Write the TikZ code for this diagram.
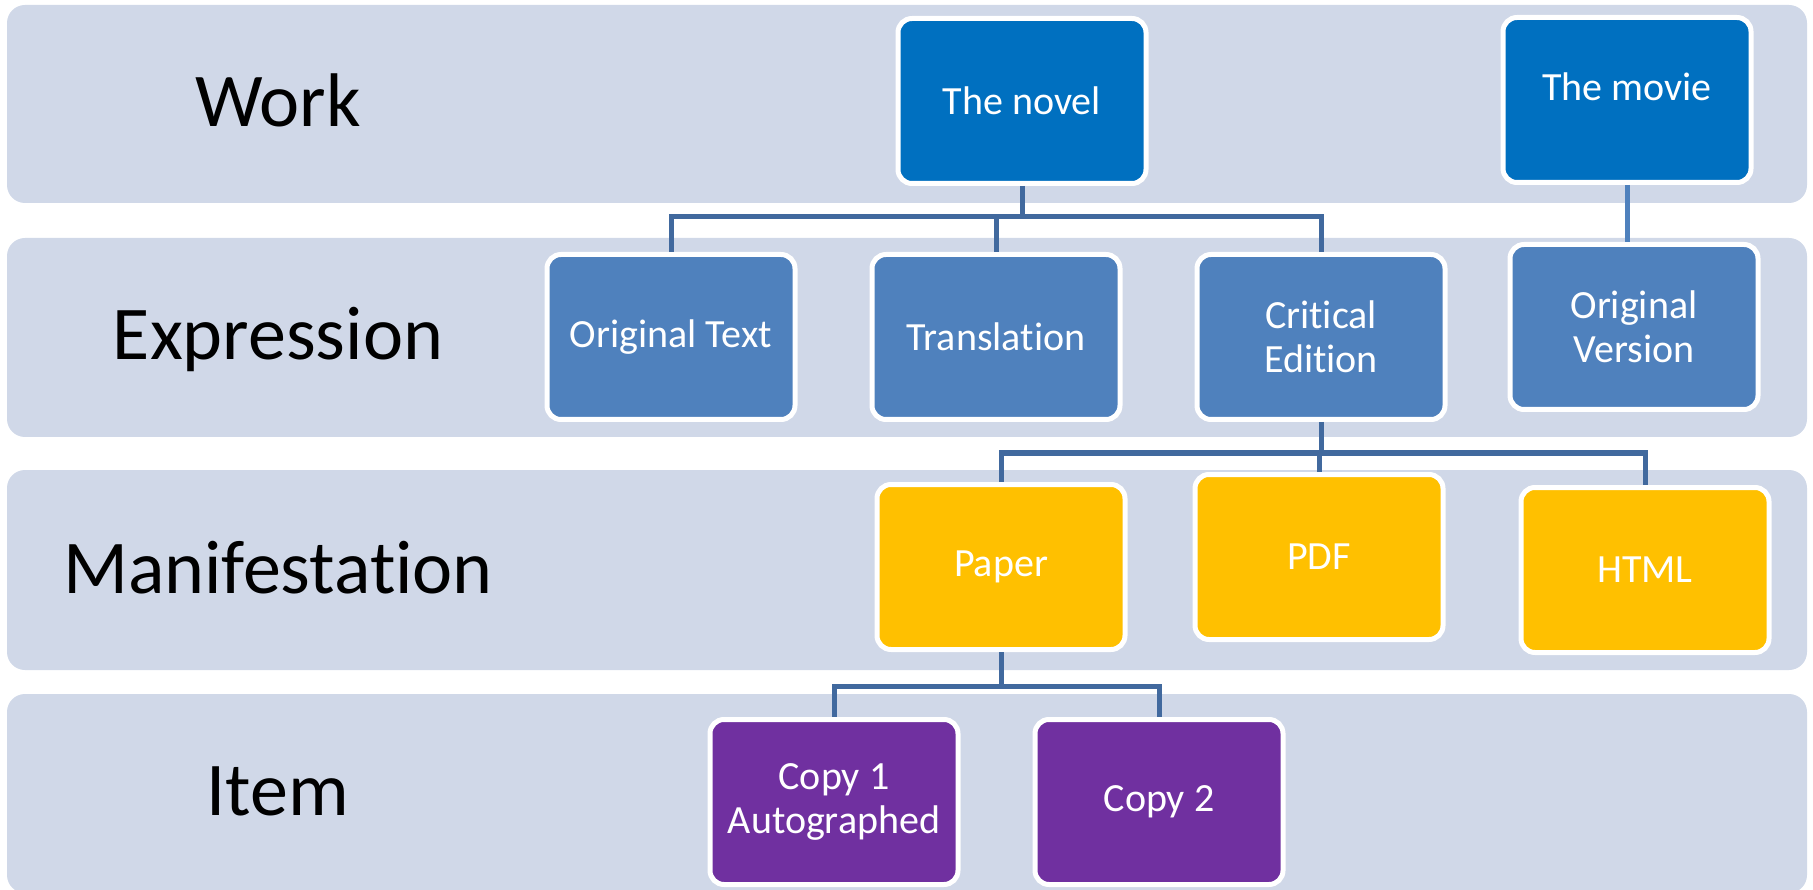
\documentclass[tikz,border=0pt]{standalone}
\usepackage{fontspec}
\setmainfont{Carlito}[RawFeature={-liga;-clig;-calt;-dlig;-rlig}]
\usetikzlibrary{positioning}
\definecolor{bandgray}{HTML}{D0D8E8}
\definecolor{workblue}{HTML}{0070C0}
\definecolor{exprblue}{HTML}{4F81BD}
\definecolor{manifgold}{HTML}{FFC000}
\definecolor{itempurple}{HTML}{7030A0}
\definecolor{linkblue}{HTML}{41699E}

\begin{document}
\begin{tikzpicture}[x=1pt,y=-1pt,node distance=325pt,
    band/.style={fill=bandgray,rounded corners=18pt},
    level/.style={anchor=base,font=\fontsize{76}{80}\selectfont},
    entity/.style={draw=white,line width=5pt,rounded corners=14pt,
      minimum width=248pt,minimum height=165pt,text=white,align=center,
      font=\fontsize{40}{44}\selectfont},
    work/.style={entity,fill=workblue},
    expr/.style={entity,fill=exprblue},
    manif/.style={entity,fill=manifgold},
    copyitem/.style={entity,fill=itempurple},
    link/.style={draw=linkblue,line width=5pt},
    movielink/.style={draw=exprblue,line width=5pt}]

    \useasboundingbox (0,0) rectangle (1813,890);

    % levels
    \fill[band] (7,5) rectangle (1807,203);
    \fill[band] (7,238) rectangle (1807,437);
    \fill[band] (7,470) rectangle (1807,670);
    \fill[band] (7,694) rectangle (1807,893);

    \node[level] (lwork) at (278,127) {Work};
    \node[level] (lexpr) at (278,360) {Expression};
    \node[level] (lmanif) at (278,593) {Manifestation};
    \node[level] (litem) at (278,815) {Item};

    % boxes
    \node[work] (novel) at (1022,101) {The novel};
    \node[work] (movie) at (1627,100) {\raisebox{26pt}{The movie}};

    \node[expr] (orig) at (671,337) {Original Text};
    \node[expr] (transl) [right of=orig] {Translation};
    \node[expr] (critical) [right of=transl] {Critical\\Edition};
    \node[expr] (origver) at (1634,327) {Original\\Version};

    \node[manif] (paper) at (1001,567) {Paper};
    \node[manif] (pdf) at (1319,557) {PDF};
    \node[manif] (html) at (1645,570) {HTML};

    \node[copyitem] (copya) at (834,802) {Copy 1\\Autographed};
    \node[copyitem] (copyb) [right of=copya] {Copy 2};

    % connectors
    \coordinate (busw) at (1022,217);
    \coordinate (busm) at (1321,453);
    \coordinate (busi) at (1001,686);

    \draw[link] (novel) -- (busw);
    \draw[link] (busw) -| (orig);
    \draw[link] (busw) -| (transl);
    \draw[link] (busw) -| (critical);

    \draw[link] (critical) -- (busm);
    \draw[link] (busm) -| (paper);
    \draw[link] (busm) -| (pdf);
    \draw[link] (busm) -| (html);

    \draw[link] (paper) -- (busi);
    \draw[link] (busi) -| (copya);
    \draw[link] (busi) -| (copyb);

    \draw[movielink] (movie.south) -- (movie.south |- origver.north);
\end{tikzpicture}
\end{document}
